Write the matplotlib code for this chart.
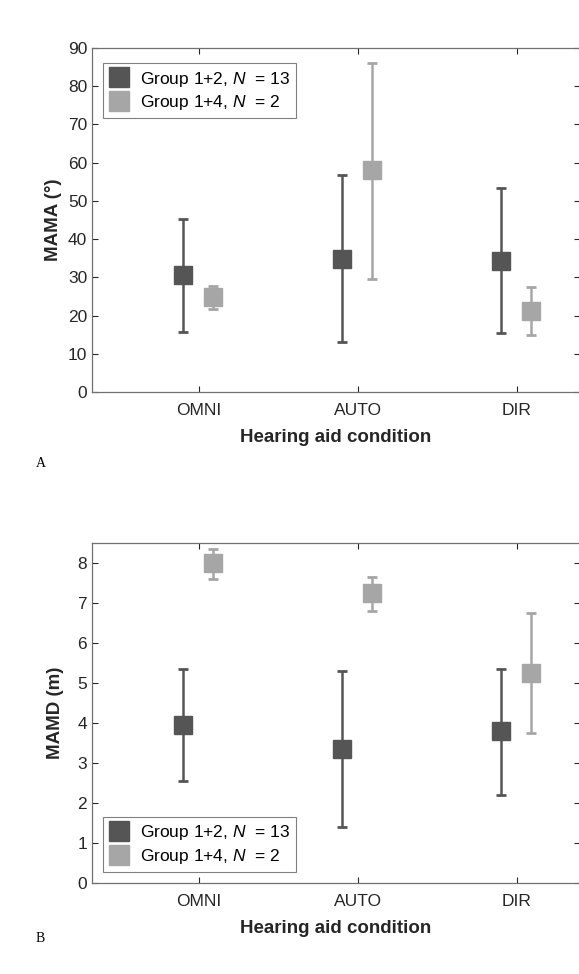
import numpy as np
import matplotlib
matplotlib.use('Agg')
import matplotlib.pyplot as plt
from matplotlib.lines import Line2D

plt.rcParams['font.family'] = ['Liberation Sans', 'DejaVu Sans']
plt.rcParams['mathtext.fontset'] = 'custom'
plt.rcParams['mathtext.it'] = 'Liberation Sans:italic'
plt.rcParams['mathtext.rm'] = 'Liberation Sans'

conditions = ['OMNI', 'AUTO', 'DIR']
groups = ['Group 1+2, $\\it{N}$  = 13', 'Group 1+4, $\\it{N}$  = 2']

# panel A: MAMA (deg)  -> center, upper, lower
mama_g12 = [30.5, 34.8, 34.3]
mama_g12_hi = [45.2, 56.8, 53.5]
mama_g12_lo = [15.8, 13.0, 15.5]
mama_g14 = [24.8, 58.0, 21.2]
mama_g14_hi = [27.8, 86.0, 27.6]
mama_g14_lo = [21.7, 29.7, 15.0]

# panel B: MAMD (m)
mamd_g12 = [3.95, 3.35, 3.8]
mamd_g12_hi = [5.35, 5.3, 5.35]
mamd_g12_lo = [2.55, 1.4, 2.2]
mamd_g14 = [8.0, 7.25, 5.25]
mamd_g14_hi = [8.35, 7.65, 6.75]
mamd_g14_lo = [7.6, 6.8, 3.75]

dark = '#555555'
light = '#a6a6a6'
x_pos = np.arange(1, len(conditions) + 1)

fig = plt.figure(figsize=(5.79, 9.74), dpi=100)
ax1 = fig.add_axes([0.159, 0.5975, 0.843, 0.3532])
ax2 = fig.add_axes([0.159, 0.0934, 0.843, 0.349])


def draw(ax, c1, h1, l1, c2, h2, l2):
    c1, h1, l1 = map(np.array, (c1, h1, l1))
    c2, h2, l2 = map(np.array, (c2, h2, l2))
    ax.errorbar(x_pos - 0.095, c1, yerr=[c1 - l1, h1 - c1], fmt='s', color=dark,
                ecolor=dark, elinewidth=1.8, capsize=3.5, capthick=2,
                markersize=13.5, markeredgecolor=dark)
    ax.errorbar(x_pos + 0.09, c2, yerr=[c2 - l2, h2 - c2], fmt='s', color=light,
                ecolor=light, elinewidth=1.8, capsize=3.5, capthick=2,
                markersize=13.5, markeredgecolor=light)
    ax.set_xlim(0.33, 3.40)
    ax.set_xticks(x_pos)
    ax.set_xticklabels(conditions)
    ax.tick_params(direction='in', length=4, labelsize=12.5, colors='#262626',
                   right=True, top=True, width=0.8)
    ax.tick_params(axis='x', pad=8)
    for s in ax.spines.values():
        s.set_color('#707070')
        s.set_linewidth(0.9)
    ax.set_xlabel('Hearing aid condition', fontsize=13.5, fontweight='bold',
                  color='#262626', labelpad=8)


draw(ax1, mama_g12, mama_g12_hi, mama_g12_lo, mama_g14, mama_g14_hi, mama_g14_lo)
ax1.set_ylim(0, 90)
ax1.set_yticks(np.arange(0, 91, 10))
ax1.set_ylabel('MAMA (°)', fontsize=13.5, fontweight='bold', color='#262626', labelpad=4)

draw(ax2, mamd_g12, mamd_g12_hi, mamd_g12_lo, mamd_g14, mamd_g14_hi, mamd_g14_lo)
ax2.set_ylim(0, 8.5)
ax2.set_yticks(np.arange(0, 9, 1))
ax2.set_ylabel('MAMD (m)', fontsize=13.5, fontweight='bold', color='#262626', labelpad=10)

handles = [Line2D([], [], marker='s', linestyle='none', color=dark, markersize=14),
           Line2D([], [], marker='s', linestyle='none', color=light, markersize=14)]
leg_kw = dict(fontsize=12.5, fancybox=False, edgecolor='#808080', framealpha=1,
              handlelength=1.2, handletextpad=0.6, borderpad=0.35, labelspacing=0.25,
              borderaxespad=0)
leg1 = ax1.legend(handles, groups, loc='upper left', bbox_to_anchor=(0.022, 0.955), **leg_kw)
leg2 = ax2.legend(handles, groups, loc='lower left', bbox_to_anchor=(0.022, 0.033), **leg_kw)
for leg in (leg1, leg2):
    leg.get_frame().set_linewidth(0.8)

fig.text(0.062, 1 - 463 / 974, 'A', family='Liberation Serif', fontsize=10, va='center')
fig.text(0.062, 1 - 938 / 974, 'B', family='Liberation Serif', fontsize=10, va='center')

fig.savefig('out.png', dpi=100)
